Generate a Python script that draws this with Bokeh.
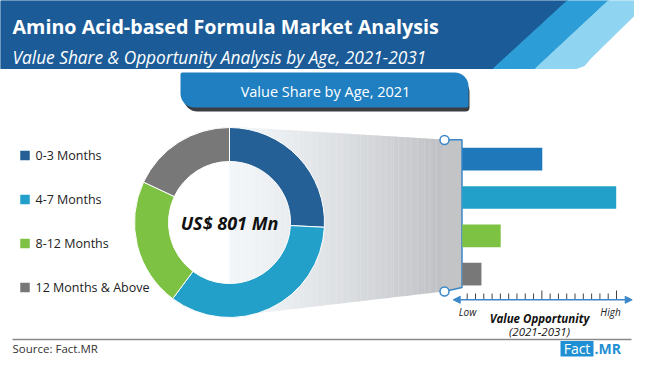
import numpy as np
from bokeh.plotting import figure
from bokeh.models import Range1d, Arrow, NormalHead, BoxAnnotation, ColumnDataSource
from bokeh.core.properties import value
from bokeh.embed import file_html
from bokeh.resources import INLINE

# ---------------- data ----------------
title = "Amino Acid-based Formula Market Analysis"
subtitle = "Value Share & Opportunity Analysis by Age, 2021-2031"
panel_title = "Value Share by Age, 2021"
categories = ["0-3 Months", "4-7 Months", "8-12 Months", "12 Months & Above"]
value_share_2021 = [25.8, 34.4, 21.8, 18.0]          # % share (donut)
value_opportunity = [0.52, 1.0, 0.25, 0.125]          # relative opportunity (bars)
total_label = "US$ 801 Mn"
axis_low, axis_high = "Low", "High"
axis_title = ["Value Opportunity", "(2021-2031)"]
source_label = "Source: Fact.MR"

# ---------------- style ----------------
seg_colors = ["#245f96", "#22a0c9", "#7dc243", "#787878"]
bar_colors = ["#1f78ba", "#22a0c9", "#7dc243", "#787878"]
DARK = "#1b5c98"
MID = "#2c9dd6"
LIGHT = "#8fd4f0"
AXIS_BLUE = "#3a87c9"
LOGO_BLUE = "#1f8fd3"
FONT = value("Open Sans")

FW, FH = 634, 358
def Y(y):
    return FH - y

p = figure(width=FW, height=FH, output_backend="svg", toolbar_location=None,
           x_range=Range1d(0, FW), y_range=Range1d(0, FH),
           min_border=0, outline_line_color=None, background_fill_color="white")
p.axis.visible = False
p.grid.visible = False

# ---------------- header ----------------
p.patch([0, 567, 493, 0], [Y(0), Y(0), Y(68), Y(68)], fill_color=DARK, line_color=DARK)
p.patch([567, 608, 535, 493], [Y(0), Y(0), Y(68), Y(68)], fill_color=MID, line_color=MID)
p.patch([608, 650, 650, 590, 584, 576, 535],
        [Y(0), Y(0), Y(-1), Y(58), Y(65), Y(68), Y(68)], fill_color=LIGHT, line_color=LIGHT)
p.text(x=[12], y=[Y(26)], text=[title], text_font=FONT, text_font_size=value("19.7px"),
       text_font_style="bold", text_color="white", text_baseline="middle")
p.text(x=[12], y=[Y(57)], text=[subtitle], text_font=FONT, text_font_size=value("17.3px"),
       text_font_style="italic", text_color="white", text_baseline="middle")

# ---------------- panel title box ----------------
p.add_layout(BoxAnnotation(left=183, right=469, top=Y(78), bottom=Y(111), fill_color="#3a3d42",
                           fill_alpha=1, line_color=None, border_radius=(2, 14, 4, 14),
                           level="underlay"))
p.add_layout(BoxAnnotation(left=180, right=468, top=Y(72), bottom=Y(107), fill_color="#1f7fc1",
                           fill_alpha=1, line_color=None, border_radius=(2, 14, 2, 14),
                           level="underlay"))
p.text(x=[325], y=[Y(91)], text=[panel_title], text_font=FONT, text_font_size=value("14.5px"),
       text_color="white", text_align="center", text_baseline="middle")

# ---------------- funnel (gradient) ----------------
cx, cy, r_out, r_in = 229, 222, 95, 61
fx0, fx1 = 229, 443
top0, top1, bot0, bot1 = 126, 139, 316, 291
n = 90
xs, ys, cols = [], [], []
c0 = np.array([243, 246, 249]); c1 = np.array([190, 192, 196])
def tp(x): return top0 + (x - fx0) * (top1 - top0) / (fx1 - fx0)
def bt(x): return bot0 + (x - fx0) * (bot1 - bot0) / (fx1 - fx0)
for j in range(n):
    a = fx0 + (fx1 - fx0) * j / n
    b = fx0 + (fx1 - fx0) * (j + 1) / n
    xs.append([a, b + 0.3, b + 0.3, a])
    ys.append([Y(tp(a)), Y(tp(b)), Y(bt(b)), Y(bt(a))])
    t = ((a + b) / 2 - fx0) / (fx1 - fx0)
    c = c0 + (c1 - c0) * t ** 1.3
    cols.append("#%02x%02x%02x" % tuple(int(round(v)) for v in c))
p.patches(xs, ys, fill_color=cols, line_color=None)
p.patch([443, 461.5, 461.5, 443], [Y(139.3), Y(139.3), Y(287), Y(291)],
        fill_color="#c3c4c6", line_color=None)

# ---------------- donut ----------------
total = sum(value_share_2021)
ends = 90 - np.cumsum(value_share_2021) / total * 360
starts = np.concatenate([[90], ends[:-1]])
donut = ColumnDataSource(dict(start=np.radians(starts), end=np.radians(ends), color=seg_colors))
p.annular_wedge(x=cx, y=Y(cy), inner_radius=r_in, outer_radius=r_out, start_angle="start",
                end_angle="end", direction="clock", fill_color="color", line_color="white",
                line_width=1, source=donut)
p.text(x=[cx], y=[Y(cy)], text=[total_label], text_font=FONT, text_font_size=value("18px"),
       text_font_style="bold italic", text_color="#111111", text_align="center",
       text_baseline="middle")

# ---------------- bracket ----------------
p.line([444, 461.5, 461.5, 444], [Y(139.3), Y(139.3), Y(287), Y(291)], line_color=AXIS_BLUE,
       line_width=1.5)
p.scatter([444, 444], [Y(139.5), Y(291)], marker="circle", size=9, fill_color="white",
          line_color=AXIS_BLUE, line_width=1.5)

# ---------------- bars ----------------
bar_x0, bar_px_max = 461.7, 154.0
s_ = -bar_x0 / bar_px_max
p.extra_x_ranges["opp"] = Range1d(s_, s_ + FW / bar_px_max)
row_top_y, row_step = 158.7, 38.3
kb = Y(row_top_y) - row_step * (len(categories) - 1)
p.extra_y_ranges["cat"] = Range1d((0 - kb) / row_step, (FH - kb) / row_step)
bars = ColumnDataSource(dict(y=list(range(len(categories)))[::-1], right=value_opportunity,
                             color=bar_colors))
p.hbar(y="y", left=0, right="right", height=22.7 / row_step, fill_color="color",
       line_color=None, x_range_name="opp", y_range_name="cat", source=bars)

# ---------------- opportunity axis ----------------
ay = Y(299.3)
head = dict(size=7, fill_color=AXIS_BLUE, line_color=AXIS_BLUE)
p.add_layout(Arrow(start=NormalHead(**head), end=NormalHead(**head), x_start=452.7, y_start=ay,
                   x_end=631.7, y_end=ay, line_color=AXIS_BLUE, line_width=1.5))
tick_x = np.linspace(466.7, 616, 19)
tick_top = [290 if i in (9, 18) else 293 for i in range(19)]
p.segment(x0=tick_x, y0=[ay] * 19, x1=tick_x, y1=[Y(t) for t in tick_top], line_color="#444444",
          line_width=1)
p.text(x=[467, 610], y=[Y(311), Y(311)], text=[axis_low, axis_high], text_font=FONT,
       text_font_size=value("10px"), text_font_style="italic", text_color="#222222",
       text_align="center", text_baseline="middle")
p.text(x=[539], y=[Y(317.5)], text=[axis_title[0]], text_font=FONT, text_font_size=value("11.5px"),
       text_font_style="bold italic", text_color="#111111", text_align="center",
       text_baseline="middle")
p.text(x=[539], y=[Y(331)], text=[axis_title[1]], text_font=FONT, text_font_size=value("11.5px"),
       text_font_style="italic", text_color="#111111", text_align="center",
       text_baseline="middle")

# ---------------- legend ----------------
leg_y = [155 + 44 * i for i in range(len(categories))]
p.scatter(x=[24.5] * len(categories), y=[Y(v) for v in leg_y], marker="square", size=9.5,
          fill_color=seg_colors, line_color=None)
p.text(x=[35] * len(categories), y=[Y(v) for v in leg_y], text=categories, text_font=FONT,
       text_font_size=value("12.5px"), text_color="#222222", text_baseline="middle")

# ---------------- footer (fitted into the 358px frame) ----------------
p.line([12, 631], [Y(339), Y(339)], line_color="#8a8a8a", line_width=1.5)
p.text(x=[12], y=[Y(348)], text=[source_label], text_font=FONT, text_font_size=value("11.5px"),
       text_color="#333333", text_baseline="middle")
p.quad(left=[560], right=[593], top=[Y(340.5)], bottom=[Y(356)], fill_color=LOGO_BLUE,
       line_color=None)
p.text(x=[576.5], y=[Y(347.5)], text=["Fact"], text_font=FONT, text_font_size=value("14px"),
       text_color="white", text_align="center", text_baseline="middle")
p.text(x=[594], y=[Y(347.5)], text=[".MR"], text_font=FONT, text_font_size=value("14px"),
       text_font_style="bold", text_color=LOGO_BLUE, text_baseline="middle")

open("out.html", "w").write(file_html(p, INLINE))
